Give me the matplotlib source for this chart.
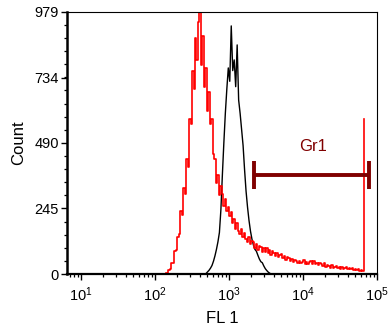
"""Flow cytometry histogram overlay with Gr1 gate."""

import matplotlib

matplotlib.use("Agg")
import matplotlib.pyplot as plt
import numpy as np
from matplotlib.ticker import AutoMinorLocator, LogLocator, FixedLocator

plt.rcParams["font.family"] = ["Liberation Sans", "DejaVu Sans"]
plt.rcParams["mathtext.fontset"] = "custom"
plt.rcParams["mathtext.rm"] = "Liberation Sans"
plt.rcParams["mathtext.it"] = "Liberation Sans"

# channel grid: log10 of FL 1, 0.02 decade per channel
channel_step = 0.02

red_start = 2.15
red_counts = [
    4, 3, 15, 18, 42, 40, 85, 88, 140, 150, 235, 220, 320, 300, 430, 400,
    580, 560, 760, 690, 880, 800, 940, 979, 780, 890, 700, 770, 610, 680,
    560, 580, 450, 430, 340, 370, 295, 330, 300, 255, 280, 235, 250, 215,
    230, 190, 205, 170, 190, 160, 150, 170, 138, 155, 130, 120, 140, 112,
    125, 118, 96, 112, 90, 105, 100, 84, 98, 82, 96, 80, 88, 72, 85, 80,
    66, 78, 63, 70, 74, 58, 66, 54, 62, 58, 47, 55, 44, 52, 50, 41, 49,
    40, 46, 52, 39, 45, 37, 44, 48, 38, 50, 36, 42, 33, 41, 38, 30, 40,
    28, 34, 31, 24, 32, 22, 28, 30, 21, 27, 20, 26, 19, 24, 27, 18, 23,
    17, 22, 16, 19, 14, 18, 13, 15, 12, 579,
]

black_start = 2.69
black_counts = [
    2, 8, 14, 22, 32, 48, 68, 92, 120, 155, 240, 370, 490, 600, 690, 770,
    720, 927, 760, 800, 700, 856, 650, 600, 540, 480, 390, 310, 250, 200,
    160, 130, 108, 92, 85, 70, 56, 46, 42, 30, 20, 13, 7, 3, 0,
]

gate_label = "Gr1"
gate_range = (2200, 77000)
gate_level = 370

y_ticks = [0, 245, 490, 734, 979]
x_decades = [1, 2, 3, 4, 5]


def channels(start, counts):
    return 10 ** (start + channel_step * np.arange(len(counts)))


fig = plt.figure(figsize=(3.89, 3.29), dpi=100)
ax = fig.add_axes([67 / 389, 1 - 274 / 329, 310 / 389, 262 / 329])

ax.plot(channels(black_start, black_counts), black_counts, color="black",
        lw=1.0)
ax.plot(channels(red_start, red_counts), red_counts, color="#ff0000",
        lw=1.2, drawstyle="steps-mid")

gate_color = "#800000"
ax.plot(gate_range, [gate_level, gate_level], color=gate_color, lw=2.8,
        solid_capstyle="butt")
for gx in gate_range:
    ax.plot([gx, gx], [gate_level - 52, gate_level + 52], color=gate_color,
            lw=2.8, solid_capstyle="butt")
ax.text(np.sqrt(gate_range[0] * gate_range[1]) * 1.05, 475, gate_label,
        color=gate_color, fontsize=12, ha="center", va="center")

ax.set_xscale("log")
ax.set_xlim(10 ** 0.81, 10 ** 5)
ax.set_ylim(0, 979)
ax.xaxis.set_major_locator(FixedLocator([10.0 ** d for d in x_decades]))
ax.set_xticklabels([f"$10^{{{d}}}$" for d in x_decades])
ax.xaxis.set_minor_locator(LogLocator(base=10, subs=np.arange(2, 10)))
ax.xaxis.set_minor_formatter(plt.NullFormatter())
ax.set_yticks(y_ticks)
ax.yaxis.set_minor_locator(AutoMinorLocator(5))

ax.tick_params(axis="both", which="major", direction="out", length=4.5,
               width=1.0, labelsize=10.5, pad=1.5)
ax.tick_params(axis="both", which="minor", direction="out", length=2.5,
               width=0.9)
ax.tick_params(axis="x", which="major", pad=4)

ax.spines["left"].set_linewidth(1.8)
ax.spines["bottom"].set_linewidth(1.6)
ax.spines["top"].set_linewidth(0.8)
ax.spines["right"].set_linewidth(0.8)

ax.set_ylabel("Count", fontsize=12, labelpad=6)
ax.set_xlabel("FL 1", fontsize=12, labelpad=5)

fig.savefig("out.png", dpi=100)
plt.close(fig)
